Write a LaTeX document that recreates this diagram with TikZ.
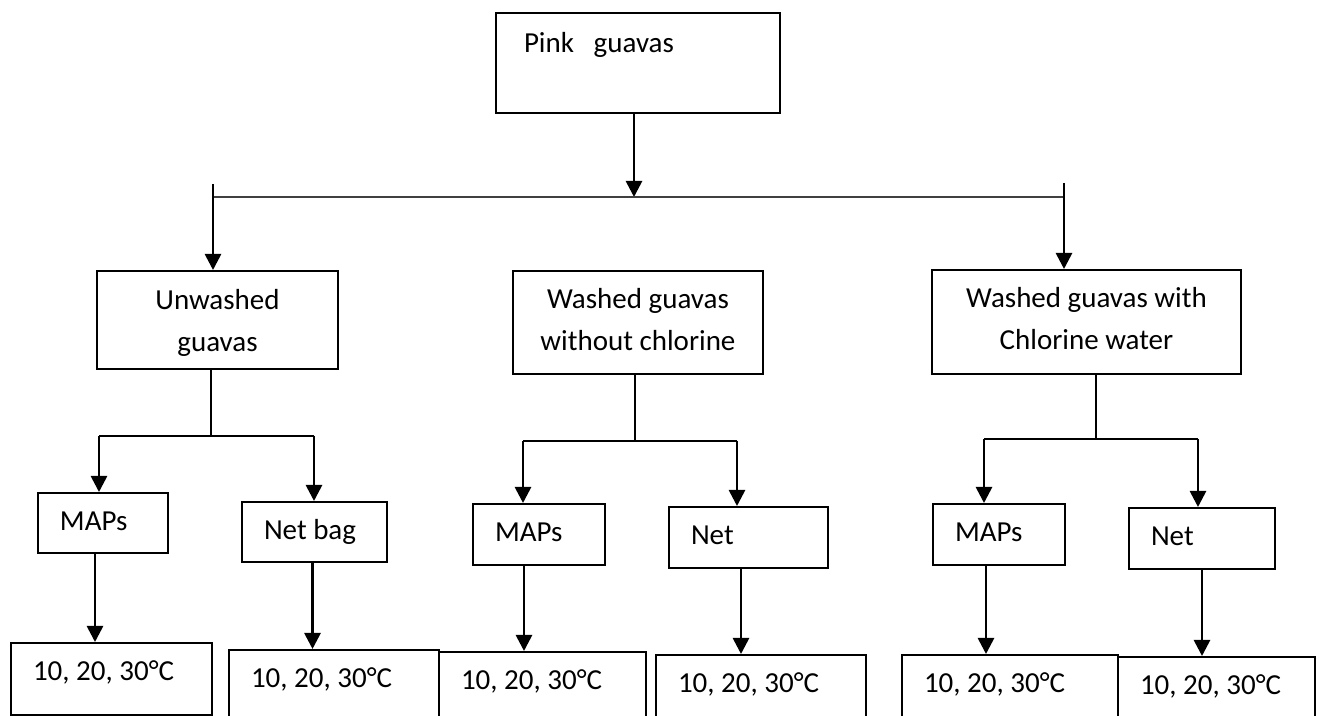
\documentclass[tikz,border=0pt]{standalone}
\usepackage{fontspec}
\setmainfont{Carlito}
\usetikzlibrary{arrows.meta}

\tikzset{
  box/.style={draw, line width=1pt, anchor=north west, inner ysep=0pt, inner xsep=11pt, align=flush left, text height=19pt},
  mid/.style={align=flush center},
  flow/.style={line width=1.35pt, -{Triangle[length=8pt,width=8pt]}},
  branch/.style={line width=1pt},
}

\begin{document}
\begin{tikzpicture}[x=0.5pt, y=-0.5pt, font=\fontsize{14.5pt}{21pt}\selectfont]
\useasboundingbox (0,0) rectangle (1319,716);

% source
\node[box, inner xsep=14pt, text width=114pt, text height=20pt, text depth=30pt] (pink) at (495,12) {Pink~~~guavas};

% treatments
\node[box, mid, text width=98.5pt, text height=19.5pt, text depth=29.5pt] (unw) at (96,270) {Unwashed\\guavas};
\node[box, mid, text width=103pt, text depth=32.5pt] (wo) at (512,270) {Washed guavas\\without chlorine};
\node[box, mid, text width=132.5pt, text depth=33pt] (chl) at (931,269) {Washed guavas with\\Chlorine water};

% packages
\node[box, text width=43pt, text depth=11pt] (map1) at (37,492) {MAPs};
\node[box, text width=50.5pt, text depth=11pt] (bag1) at (241,501) {Net bag};
\node[box, text width=44pt, text depth=11.5pt] (map2) at (472,503) {MAPs};
\node[box, text width=57.5pt, text depth=11.5pt] (net2) at (668,506) {Net};
\node[box, text width=44pt, text depth=11.5pt] (map3) at (932,503) {MAPs};
\node[box, text width=51pt, text depth=11.5pt] (net3) at (1128,507) {Net};

% storage temperatures
\node[box, text width=78.5pt, text depth=17pt] (t1) at (10,642) {10, 20, 30°C};
\node[box, text width=83pt, text depth=16.5pt] (t2) at (228,649) {10, 20, 30°C};
\node[box, text width=81.5pt, text depth=15.5pt] (t3) at (438,651) {10, 20, 30°C};
\node[box, text width=83pt, text depth=14pt] (t4) at (655,654) {10, 20, 30°C};
\node[box, text width=86pt, text depth=14pt] (t5) at (901,654) {10, 20, 30°C};
\node[box, text width=76.5pt, text depth=13pt] (t6) at (1117,656) {10, 20, 30°C};

% first split
\coordinate (hub) at (634,197);
\coordinate (hubL) at (213,197);
\coordinate (hubR) at (1064,197);
\coordinate (inL) at (213,184);
\coordinate (inR) at (1064,183);
\draw[flow] (hub |- pink.south) -- (hub);
\draw[line width=0.65pt, black!75] (hubL) -- (hubR);
\draw[flow] (inL) -- (inL |- unw.north);
\draw[flow] (inR) -- (inR |- chl.north);

% second split
\coordinate (b1l) at (99,436);
\coordinate (b1r) at (314,436);
\coordinate (b2l) at (523,441);
\coordinate (b2r) at (737,441);
\coordinate (b3l) at (984,439);
\coordinate (b3r) at (1198,439);
\draw[branch] ([xshift=-3.25pt]unw.south) -- ([xshift=-3.25pt]unw.south |- b1l);
\draw[branch] ([xshift=-1.5pt]wo.south) -- ([xshift=-1.5pt]wo.south |- b2l);
\draw[branch] ([xshift=4.75pt]chl.south) -- ([xshift=4.75pt]chl.south |- b3l);
\draw[branch] (b1l) -- (b1r);
\draw[branch] (b2l) -- (b2r);
\draw[branch] (b3l) -- (b3r);
\draw[flow] (b1l) -- (b1l |- map1.north);
\draw[flow] (b1r) -- (b1r |- bag1.north);
\draw[flow] (b2l) -- (b2l |- map2.north);
\draw[flow] (b2r) -- (b2r |- net2.north);
\draw[flow] (b3l) -- (b3l |- map3.north);
\draw[flow] (b3r) -- (b3r |- net3.north);

% to temperatures
\draw[flow] ([xshift=-4pt]map1.south) -- ([xshift=-4pt]map1.south |- t1.north);
\draw[flow] ([xshift=-1pt]bag1.south) -- ([xshift=-1pt]bag1.south |- t2.north);
\draw[flow] ([xshift=-7.5pt]map2.south) -- ([xshift=-7.5pt]map2.south |- t3.north);
\draw[flow] ([xshift=-3.75pt]net2.south) -- ([xshift=-3.75pt]net2.south |- t4.north);
\draw[flow] ([xshift=-6.5pt]map3.south) -- ([xshift=-6.5pt]map3.south |- t5.north);
\draw[flow] (net3.south) -- (net3.south |- t6.north);
\end{tikzpicture}
\end{document}
